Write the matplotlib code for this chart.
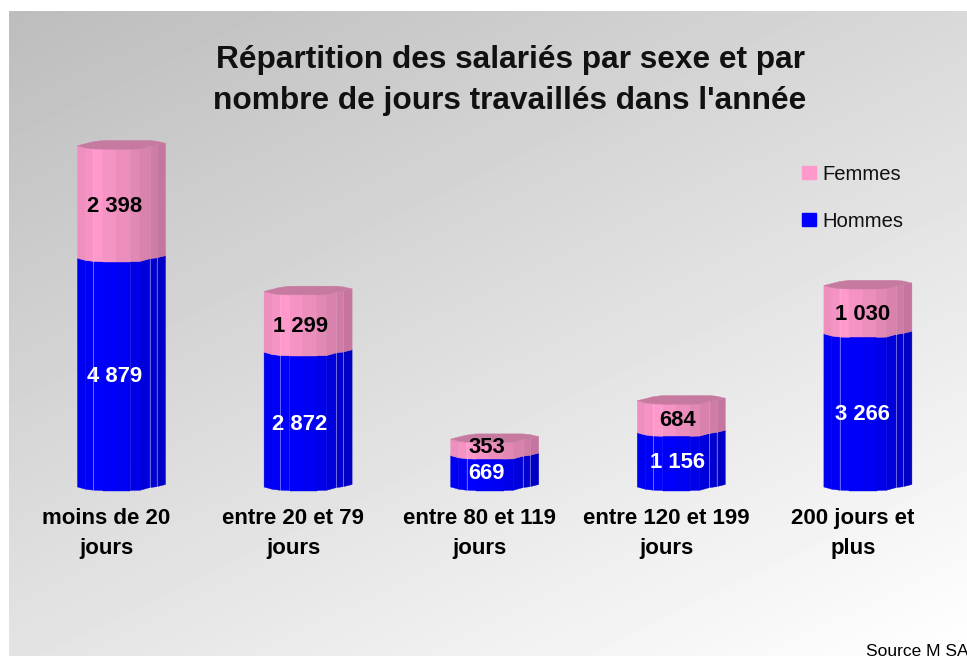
import numpy as np
import matplotlib
matplotlib.use('Agg')
import matplotlib.pyplot as plt
from matplotlib.patches import Patch
from matplotlib.transforms import ScaledTranslation

categories = ['moins de 20\njours', 'entre 20 et 79\njours', 'entre 80 et 119\njours',
              'entre 120 et 199\njours', '200 jours et\nplus']
hommes = [4879, 2872, 669, 1156, 3266]
femmes = [2398, 1299, 353, 684, 1030]
hommes_labels = ['4 879', '2 872', '669', '1 156', '3 266']
femmes_labels = ['2 398', '1 299', '353', '684', '1 030']

W, H = 967, 656
PX_PER_UNIT = 0.0469
BASE_PX = 487
FIRST_PX, STEP_PX = 121.5, 186.6
BAR_W = 88 / STEP_PX

plt.rcParams['font.family'] = ['Liberation Sans', 'DejaVu Sans']

fig = plt.figure(figsize=(W / 100, H / 100), dpi=100, facecolor='white')

# grey panel, darker at the top left
bg = fig.add_axes([9 / W, 0, 1 - 9 / W, 1 - 11 / H])
gx, gy = np.meshgrid(np.linspace(0, 1, 300), np.linspace(0, 1, 200))
bg.imshow(0.74 + 0.26 * (0.42 * gx + 0.58 * gy), cmap='gray', vmin=0, vmax=1,
          aspect='auto', interpolation='bilinear')
bg.axis('off')

left = FIRST_PX - STEP_PX / 2
ax = fig.add_axes([left / W, (H - BASE_PX) / H, 5 * STEP_PX / W, 8000 * PX_PER_UNIT / H])
ax.set_xlim(-0.5, 4.5)
ax.set_ylim(0, 8000)
ax.patch.set_alpha(0)
for s in ax.spines.values():
    s.set_visible(False)
ax.tick_params(length=0, pad=15)
ax.set_yticks([])
ax.set_xticks(range(5))
ax.set_xticklabels(categories, fontsize=16, fontweight='bold', linespacing=1.55)
# the category labels sit left of their bars in the original
shift = ScaledTranslation(-15 / 100, 0, fig.dpi_scale_trans)
for lab in ax.get_xticklabels():
    lab.set_transform(lab.get_transform() + shift)

# facets of the fake cylinder: edges across the bar and vertical sag in pixels
edges = np.array([0, .09, .18, .29, .44, .60, .71, .82, .90, 1])
front = np.array([0, 2.2, 3.2, 3.5, 3.5, 3.5, 3.3, .6, -.3, -2.5])
back = np.array([0, -2, -4, -5.2, -5.2, -5.2, -5.2, -5.2, -4.5, -2.5])
pink_shades = ['#EE8FBE', '#F593C4', '#FF99CC', '#F693C5', '#EC8EBC', '#E188B4',
               '#D982AD', '#CF7CA6', '#C575A0']
blue_shades = ['#0000F0', '#0000F6', '#0000FF', '#0000FA', '#0000F2', '#0000E8',
               '#0000DC', '#0000D0', '#0000C4']
TOP_COLOR = '#C77AA0'


def segment(i, y0, y1, shades, line_alpha):
    for k in range(len(edges) - 1):
        xs = i + (edges[k:k + 2] - .5) * BAR_W
        lo = y0 - front[k:k + 2] / PX_PER_UNIT
        hi = y1 - front[k:k + 2] / PX_PER_UNIT
        ax.fill([xs[0], xs[1], xs[1], xs[0]], [lo[0], lo[1], hi[1], hi[0]],
                color=shades[k], lw=0.3, clip_on=False)
    for e in (2, 7, 8):
        xe = i + (edges[e] - .5) * BAR_W
        ax.plot([xe, xe], [y0 - front[e] / PX_PER_UNIT, y1 - front[e] / PX_PER_UNIT],
                color='white', alpha=line_alpha, lw=.7, clip_on=False)


label_shift = [-7, -8, -8, -4, -5]
hommes_drop = [4, 5, 2, 3, 4]
femmes_drop = [5, 5, 0, 4, 5]
for i, (h, f) in enumerate(zip(hommes, femmes)):
    segment(i, 0, h, blue_shades, .4)
    segment(i, h, h + f, pink_shades, .12)
    xs = i + (edges - .5) * BAR_W
    top = h + f
    ax.fill(np.r_[xs, xs[::-1]],
            np.r_[top - front / PX_PER_UNIT, (top - back / PX_PER_UNIT)[::-1]],
            color=TOP_COLOR, lw=0.3, clip_on=False)
    x_lab = i + label_shift[i] / STEP_PX
    ax.text(x_lab, h / 2 - hommes_drop[i] / PX_PER_UNIT, hommes_labels[i], color='white',
            fontsize=15.8, fontweight='bold', ha='center', va='center')
    ax.text(x_lab, h + f / 2 - femmes_drop[i] / PX_PER_UNIT, femmes_labels[i], color='black',
            fontsize=15.8, fontweight='bold', ha='center', va='center')

fig.text(510 / W, 1 - 80.5 / H, "Répartition des salariés par sexe et par\n"
         "nombre de jours travaillés dans l'année",
         fontsize=22.8, fontweight='bold', ha='center', va='center', linespacing=1.44, color='#111111')

handles = [Patch(color='#FF99CC', label='Femmes'), Patch(color='#0000FF', label='Hommes')]
fig.legend(handles=handles, loc='upper left', bbox_to_anchor=(784 / W, 1 - 146.5 / H),
           frameon=False, fontsize=14.6, handlelength=0.66, handleheight=0.66,
           handletextpad=0.35, labelspacing=1.38, borderpad=0.4, labelcolor='#111111')

fig.text(866 / W, 1 - 652 / H, 'Source M SA', fontsize=12.5, ha='left', va='center', color='black')

fig.savefig('out.png', dpi=100)
